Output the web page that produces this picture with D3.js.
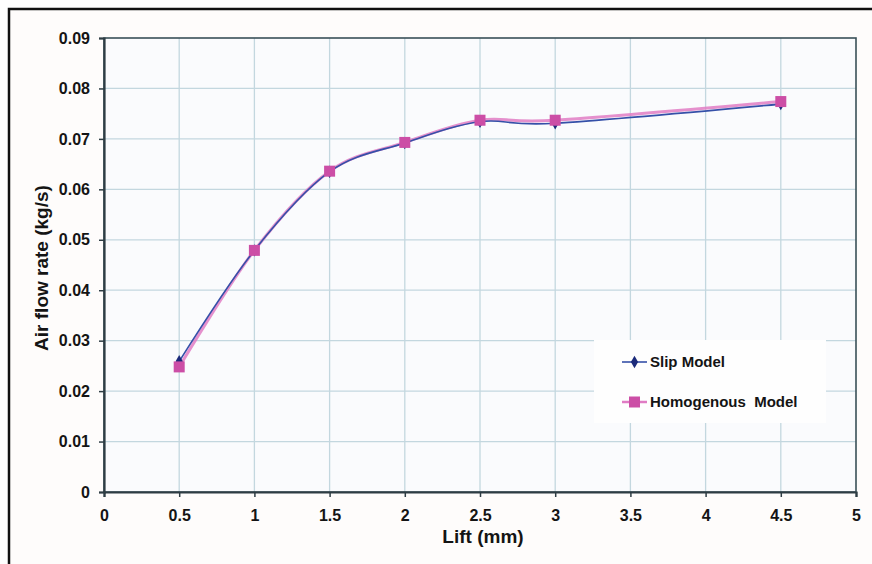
<!DOCTYPE html>
<html>
<head>
<meta charset="utf-8">
<script src="https://cdn.jsdelivr.net/npm/d3@7"></script>
<style>
  html, body { margin: 0; padding: 0; background: #ffffff; }
  svg { display: block; }
  text { font-family: "Liberation Sans", Arial, sans-serif; font-weight: bold; fill: #141414; }
</style>
</head>
<body>
<svg id="chart" width="872" height="564"></svg>
<script>
// Lift values (mm) and air flow rate (kg/s) for each model
const lift = [0.5, 1, 1.5, 2, 2.5, 3, 4.5];
const slipModel = [0.0259, 0.0479, 0.0635, 0.0692, 0.0734, 0.0731, 0.0769];
const homogenousModel = [0.0248, 0.0479, 0.0636, 0.0693, 0.0737, 0.0737, 0.0774];
const xTicks = [0, 0.5, 1, 1.5, 2, 2.5, 3, 3.5, 4, 4.5, 5];
const yTicks = [0, 0.01, 0.02, 0.03, 0.04, 0.05, 0.06, 0.07, 0.08, 0.09];
const seriesNames = ["Slip Model", "Homogenous  Model"];

const svg = d3.select("#chart");
const plotLeft = 104, plotRight = 856, plotTop = 38, plotBottom = 492;

const x = d3.scaleLinear().domain([0, 5]).range([plotLeft, plotRight]);
const y = d3.scaleLinear().domain([0, 0.09]).range([plotBottom, plotTop]);

// outer frame (left and top edges visible)
svg.append("rect").attr("x", 9).attr("y", 9).attr("width", 900).attr("height", 600)
  .attr("fill", "#fefcfb").attr("stroke", "#111").attr("stroke-width", 2.5);

// plot background
svg.append("rect").attr("x", plotLeft).attr("y", plotTop)
  .attr("width", plotRight - plotLeft).attr("height", plotBottom - plotTop)
  .attr("fill", "#fafbfd");

// gridlines
const grid = svg.append("g");
grid.selectAll("line.v").data(xTicks.slice(1, -1)).join("line").attr("class", "v")
  .attr("x1", d => x(d)).attr("x2", d => x(d)).attr("y1", plotTop).attr("y2", plotBottom)
  .attr("stroke", "#c3d7df").attr("stroke-width", 1.3);
grid.selectAll("line.h").data(yTicks.slice(1, -1)).join("line").attr("class", "h")
  .attr("x1", plotLeft).attr("x2", plotRight).attr("y1", d => y(d)).attr("y2", d => y(d))
  .attr("stroke", "#c3d7df").attr("stroke-width", 1.3);

// plot border
svg.append("rect").attr("x", plotLeft).attr("y", plotTop)
  .attr("width", plotRight - plotLeft).attr("height", plotBottom - plotTop)
  .attr("fill", "none").attr("stroke", "#3a5058").attr("stroke-width", 1.6);

// axes
const xAxis = svg.append("g").attr("transform", `translate(0,${plotBottom})`)
  .call(d3.axisBottom(x).tickValues(xTicks).tickSize(5).tickPadding(13).tickFormat(d3.format("")));
const yAxis = svg.append("g").attr("transform", `translate(${plotLeft},0)`)
  .call(d3.axisLeft(y).tickValues(yTicks).tickSize(5).tickPadding(9)
    .tickFormat(d => d === 0 ? "0" : d3.format(".2f")(d)));
[xAxis, yAxis].forEach(a => {
  a.select(".domain").attr("stroke", "#2e3d44").attr("stroke-width", 2.2);
  a.selectAll(".tick line").attr("stroke", "#2e3d44").attr("stroke-width", 1.5);
  a.selectAll(".tick text").attr("font-size", 16).attr("font-family", "Liberation Sans, Arial, sans-serif")
    .attr("font-weight", "bold").attr("fill", "#141414");
});

// legend background box
const lg = svg.append("g");
lg.append("rect").attr("x", 594).attr("y", 340).attr("width", 232).attr("height", 83).attr("fill", "#fefefe");

// series lines (smoothed)
const curve = d3.line().x(d => x(d[0])).y(d => y(d[1])).curve(d3.curveCardinal.tension(0));
const slipPts = lift.map((l, i) => [l, slipModel[i]]);
const homPts = lift.map((l, i) => [l, homogenousModel[i]]);

svg.append("path").datum(homPts).attr("d", curve).attr("fill", "none")
  .attr("stroke", "#e07cc4").attr("stroke-width", 3).attr("opacity", 0.85);
svg.append("path").datum(slipPts).attr("d", curve).attr("fill", "none")
  .attr("stroke", "#3550a8").attr("stroke-width", 1.6);

const diamond = d3.symbol().type(d3.symbolDiamond).size(45);
svg.append("g").selectAll("path").data(slipPts).join("path")
  .attr("transform", d => `translate(${x(d[0])},${y(d[1])})`)
  .attr("d", diamond).attr("fill", "#1b2a7a");
svg.append("g").selectAll("rect").data(homPts).join("rect")
  .attr("x", d => x(d[0]) - 5.5).attr("y", d => y(d[1]) - 5.5)
  .attr("width", 11).attr("height", 11).attr("fill", "#cc4ea6");

// legend entries
const legendY = [362, 402];
lg.append("line").attr("x1", 622).attr("x2", 647).attr("y1", legendY[0]).attr("y2", legendY[0])
  .attr("stroke", "#3550a8").attr("stroke-width", 1.6);
lg.append("path").attr("transform", `translate(634.5,${legendY[0]})`).attr("d", diamond).attr("fill", "#1b2a7a");
lg.append("line").attr("x1", 622).attr("x2", 647).attr("y1", legendY[1]).attr("y2", legendY[1])
  .attr("stroke", "#e07cc4").attr("stroke-width", 2.5);
lg.append("rect").attr("x", 629).attr("y", legendY[1] - 5.5).attr("width", 11).attr("height", 11).attr("fill", "#cc4ea6");
lg.selectAll("text").data(seriesNames).join("text")
  .attr("x", 650).attr("y", (d, i) => legendY[i]).attr("dy", "0.35em")
  .attr("font-size", 15).style("white-space", "pre").text(d => d);

// axis titles
svg.append("text").attr("x", 483).attr("y", 543).attr("text-anchor", "middle")
  .attr("font-size", 19).text("Lift (mm)");
svg.append("text").attr("transform", "translate(48,268) rotate(-90)").attr("text-anchor", "middle")
  .attr("font-size", 19).text("Air flow rate (kg/s)");
</script>
</body>
</html>
